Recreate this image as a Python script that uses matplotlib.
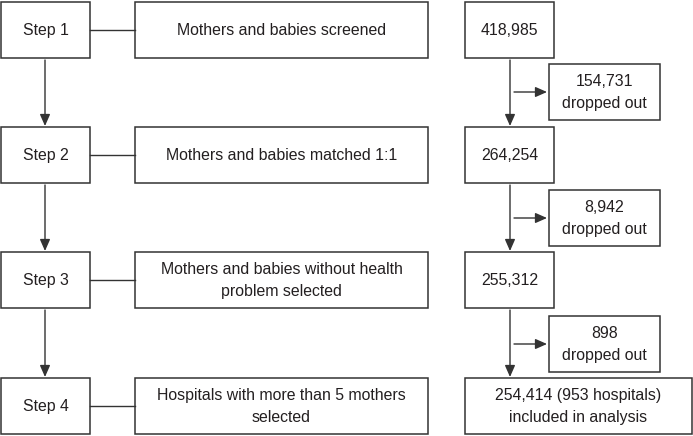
import matplotlib.pyplot as plt
from matplotlib.patches import Rectangle

# Flowchart data
steps = ["Step 1", "Step 2", "Step 3", "Step 4"]
descriptions = [
    "Mothers and babies screened",
    "Mothers and babies matched 1:1",
    "Mothers and babies without health\nproblem selected",
    "Hospitals with more than 5 mothers\nselected",
]
counts = [418985, 264254, 255312, 254414]
hospitals = 953
dropped = [154731, 8942, 898]

# layout in pixels (figure is 693x436)
row_top = [2, 127, 252, 378]
box_h = 56
step_x, step_w = 1, 89
desc_x, desc_w = 135, 293
num_x, num_w = 465, 89
last_num_w = 227
drop_x, drop_w = 549, 111
drop_top = [64, 190, 316]
drop_h = 56

LINE = "#333333"
TEXT = "#231f20"
FS = 11.4
plt.rcParams['font.family'] = ['Liberation Sans', 'DejaVu Sans']

fig = plt.figure(figsize=(6.93, 4.36), dpi=100)
ax = fig.add_axes([0, 0, 1, 1])
ax.set_xlim(0, 693)
ax.set_ylim(436, 0)
ax.axis('off')


def box(x, y, w, h, txt):
    ax.add_patch(Rectangle((x, y), w, h, fill=False, ec=LINE, lw=1.1))
    ax.text(x + w / 2, y + h / 2 + 0.5, txt, ha='center', va='center', fontsize=FS,
            color=TEXT, linespacing=1.55)


def arrow(x0, y0, x1, y1):
    ax.annotate("", xy=(x1, y1), xytext=(x0, y0),
                arrowprops=dict(arrowstyle='-|>,head_length=0.5,head_width=0.22',
                                color=LINE, lw=1.0,
                                mutation_scale=14, shrinkA=0, shrinkB=0))


for i in range(4):
    y = row_top[i]
    cy = y + box_h / 2
    box(step_x, y, step_w, box_h, steps[i])
    box(desc_x, y, desc_w, box_h, descriptions[i])
    ax.plot([step_x + step_w, desc_x], [cy, cy], color=LINE, lw=1.0)
    if i < 3:
        box(num_x, y, num_w, box_h, f"{counts[i]:,}")
        # step arrows
        arrow(step_x + step_w / 2 - 0.5, y + box_h + 2, step_x + step_w / 2 - 0.5, row_top[i + 1] - 1)
        # right column arrows
        arrow(510, y + box_h + 2, 510, row_top[i + 1] - 1)
        dcy = drop_top[i] + drop_h / 2
        arrow(514, dcy, 547, dcy)
        box(drop_x, drop_top[i], drop_w, drop_h, f"{dropped[i]:,}\ndropped out")
    else:
        box(num_x, y, last_num_w,
            box_h, f"{counts[i]:,} ({hospitals} hospitals)\nincluded in analysis")

fig.savefig("out.png", dpi=100)
